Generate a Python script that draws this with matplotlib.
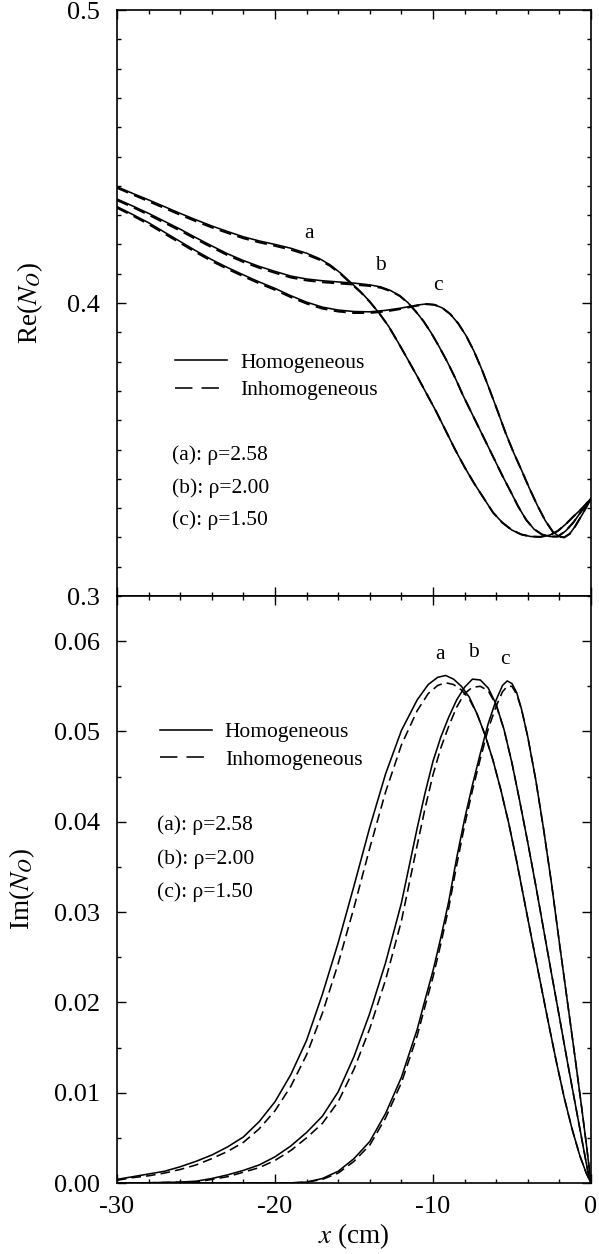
import matplotlib
matplotlib.use("Agg")
import matplotlib.pyplot as plt
from matplotlib.ticker import MultipleLocator, FormatStrFormatter
from matplotlib.lines import Line2D

# ---- Re(N_O): upper panel ----
re_a_x = [-30, -29, -28, -27, -26, -25, -24, -23, -22, -21, -20, -19, -18, -17.2, -16.5, -15.8,
          -15.2, -14.6, -14.0, -13.4, -12.8, -12.2, -11.6, -11.0, -10.4, -9.8, -9.2, -8.6, -8.0,
          -7.4, -6.8, -6.2, -5.6, -5.0, -4.4, -3.8, -3.2, -2.6, -2.1, -1.6, -1.1, -0.5, 0]
re_a_hom = [0.4397, 0.4374, 0.4352, 0.4329, 0.4306, 0.4284, 0.4263, 0.4244, 0.4226, 0.4212, 0.4200,
            0.4187, 0.4170, 0.4152, 0.4130, 0.4100, 0.4070, 0.4040, 0.4005, 0.3965, 0.3920, 0.3865,
            0.3808, 0.3750, 0.3690, 0.3630, 0.3565, 0.3500, 0.3440, 0.3385, 0.3335, 0.3285, 0.3250,
            0.3225, 0.3210, 0.3203, 0.3202, 0.3208, 0.3222, 0.3245, 0.3272, 0.3303, 0.3333]
re_a_inh = [0.4393, 0.4370, 0.4347, 0.4324, 0.4301, 0.4279, 0.4258, 0.4239, 0.4221, 0.4207, 0.4195,
            0.4182, 0.4165, 0.4148, 0.4126, 0.4097, 0.4067, 0.4038, 0.4004, 0.3965, 0.3920, 0.3865,
            0.3808, 0.3750, 0.3690, 0.3630, 0.3565, 0.3500, 0.3440, 0.3385, 0.3335, 0.3285, 0.3250,
            0.3225, 0.3210, 0.3203, 0.3202, 0.3208, 0.3222, 0.3245, 0.3272, 0.3303, 0.3333]

re_b_x = [-30, -29, -28, -27, -26, -25, -24, -23, -22, -21, -20, -19, -18, -17, -16, -15, -14,
          -13.3, -12.7, -12.1, -11.6, -11.1, -10.6, -10.1, -9.6, -9.1, -8.6, -8.1, -7.6, -7.1,
          -6.6, -6.1, -5.6, -5.1, -4.6, -4.1, -3.6, -3.1, -2.6, -2.1, -1.6, -1.1, -0.6, 0]
re_b_hom = [0.4355, 0.4331, 0.4306, 0.4279, 0.4252, 0.4223, 0.4195, 0.4168, 0.4145, 0.4125, 0.4108,
            0.4092, 0.4082, 0.4076, 0.4072, 0.4068, 0.4062, 0.4055, 0.4043, 0.4025, 0.4002, 0.3972,
            0.3938, 0.3897, 0.3850, 0.3800, 0.3745, 0.3685, 0.3630, 0.3575, 0.3520, 0.3465, 0.3410,
            0.3358, 0.3305, 0.3260, 0.3228, 0.3210, 0.3203, 0.3203, 0.3222, 0.3252, 0.3290, 0.3333]
re_b_inh = [0.4351, 0.4327, 0.4301, 0.4274, 0.4247, 0.4218, 0.4190, 0.4163, 0.4140, 0.4120, 0.4103,
            0.4087, 0.4077, 0.4071, 0.4067, 0.4063, 0.4058, 0.4052, 0.4041, 0.4024, 0.4001, 0.3972,
            0.3938, 0.3897, 0.3850, 0.3800, 0.3745, 0.3685, 0.3630, 0.3575, 0.3520, 0.3465, 0.3410,
            0.3358, 0.3305, 0.3260, 0.3228, 0.3210, 0.3203, 0.3203, 0.3222, 0.3252, 0.3290, 0.3333]

re_c_x = [-30, -29, -28, -27, -26, -25, -24, -23, -22, -21, -20, -19, -18, -17, -16, -15, -14,
          -13, -12, -11, -10.4, -9.9, -9.4, -8.9, -8.4, -7.9, -7.4, -6.9, -6.4, -5.9, -5.4, -4.9,
          -4.4, -3.9, -3.4, -2.9, -2.4, -2.0, -1.7, -1.35, -1.0, -0.5, 0]
re_c_hom = [0.4329, 0.4302, 0.4274, 0.4242, 0.4210, 0.4178, 0.4148, 0.4121, 0.4096, 0.4072, 0.4050,
            0.4025, 0.4003, 0.3986, 0.3976, 0.3971, 0.3970, 0.3975, 0.3983, 0.3993, 0.3997, 0.3994,
            0.3983, 0.3962, 0.3930, 0.3888, 0.3835, 0.3772, 0.3702, 0.3630, 0.3556, 0.3490, 0.3430,
            0.3368, 0.3310, 0.3258, 0.3218, 0.3203, 0.3200, 0.3212, 0.3238, 0.3283, 0.3333]
re_c_inh = [0.4325, 0.4298, 0.4269, 0.4237, 0.4205, 0.4173, 0.4143, 0.4116, 0.4091, 0.4067, 0.4045,
            0.4020, 0.3998, 0.3981, 0.3971, 0.3966, 0.3966, 0.3971, 0.3980, 0.3991, 0.3996, 0.3994,
            0.3983, 0.3962, 0.3930, 0.3888, 0.3835, 0.3772, 0.3702, 0.3630, 0.3556, 0.3490, 0.3430,
            0.3368, 0.3310, 0.3258, 0.3218, 0.3203, 0.3200, 0.3212, 0.3238, 0.3283, 0.3333]

# ---- Im(N_O): lower panel ----
im_a_x = [-30, -29, -28, -27, -26, -25, -24, -23, -22, -21, -20, -19, -18, -17, -16, -15, -14,
          -13, -12, -11, -10.3, -9.7, -9.2, -8.7, -8.2, -7.7, -7.2, -6.7, -6.2, -5.7, -5.2, -4.7,
          -4.2, -3.7, -3.2, -2.7, -2.2, -1.7, -1.2, -0.7, -0.3, 0]
im_a_hom = [0.0004, 0.0007, 0.0010, 0.0013, 0.0018, 0.0024, 0.0031, 0.0040, 0.0051, 0.0068, 0.0090,
            0.0120, 0.0158, 0.0209, 0.0266, 0.0329, 0.0394, 0.0453, 0.0501, 0.0535, 0.0552, 0.0560,
            0.0562, 0.0558, 0.0550, 0.0538, 0.0519, 0.0496, 0.0468, 0.0435, 0.0398, 0.0356, 0.0311,
            0.0266, 0.0222, 0.0178, 0.0135, 0.0095, 0.0060, 0.0030, 0.0011, 0.0]
im_a_inh = [0.0003, 0.0006, 0.0008, 0.0011, 0.0015, 0.0020, 0.0027, 0.0035, 0.0045, 0.0060, 0.0080,
            0.0107, 0.0142, 0.0188, 0.0243, 0.0305, 0.0371, 0.0433, 0.0485, 0.0523, 0.0542, 0.0551,
            0.0554, 0.0552, 0.0546, 0.0536, 0.0519, 0.0496, 0.0468, 0.0435, 0.0398, 0.0356, 0.0311,
            0.0266, 0.0222, 0.0178, 0.0135, 0.0095, 0.0060, 0.0030, 0.0011, 0.0]

im_b_x = [-30, -28, -26, -25, -24, -23, -22, -21, -20, -19, -18, -17, -16, -15, -14, -13, -12,
          -11, -10.5, -10, -9.5, -9, -8.5, -8, -7.5, -7, -6.5, -6, -5.5, -5, -4.5, -4, -3.5, -3,
          -2.5, -2, -1.5, -1, -0.5, -0.2, 0]
im_b_hom = [0.0, 0.00003, 0.0001, 0.0002, 0.0005, 0.0009, 0.0014, 0.0020, 0.0029, 0.0041, 0.0056,
            0.0074, 0.0101, 0.0140, 0.0188, 0.0244, 0.0310, 0.0393, 0.0432, 0.0467, 0.0494, 0.0516,
            0.0535, 0.0549, 0.0558, 0.0557, 0.0548, 0.0530, 0.0502, 0.0465, 0.0422, 0.0377, 0.0330,
            0.0281, 0.0232, 0.0184, 0.0135, 0.0088, 0.0041, 0.0013, 0.0]
im_b_inh = [0.0, 0.00002, 0.0001, 0.0001, 0.0004, 0.0007, 0.0012, 0.0017, 0.0025, 0.0036, 0.0050,
            0.0066, 0.0090, 0.0126, 0.0171, 0.0225, 0.0290, 0.0374, 0.0415, 0.0452, 0.0482, 0.0506,
            0.0527, 0.0542, 0.0549, 0.0550, 0.0545, 0.0529, 0.0502, 0.0465, 0.0422, 0.0377, 0.0330,
            0.0281, 0.0232, 0.0184, 0.0135, 0.0088, 0.0041, 0.0013, 0.0]

im_c_x = [-30, -20, -19, -18, -17, -16, -15, -14, -13, -12, -11, -10.5, -10, -9.5, -9, -8.5, -8,
          -7.5, -7, -6.5, -6, -5.6, -5.3, -5.0, -4.7, -4.4, -4.0, -3.5, -3.0, -2.5, -2.0, -1.5,
          -1.0, -0.6, -0.3, 0]
im_c_hom = [0.0, 0.0, 0.00002, 0.0001, 0.0005, 0.0013, 0.0027, 0.0046, 0.0077, 0.0117, 0.0170,
            0.0203, 0.0235, 0.0272, 0.0312, 0.0360, 0.0403, 0.0441, 0.0476, 0.0509, 0.0535, 0.0551,
            0.0556, 0.0553, 0.0543, 0.0525, 0.0494, 0.0447, 0.0392, 0.0332, 0.0266, 0.0202, 0.0138,
            0.0085, 0.0044, 0.0]
im_c_inh = [0.0, 0.0, 0.00001, 0.0001, 0.0004, 0.0011, 0.0024, 0.0042, 0.0072, 0.0111, 0.0163,
            0.0196, 0.0228, 0.0265, 0.0305, 0.0352, 0.0396, 0.0435, 0.0470, 0.0503, 0.0528, 0.0544,
            0.0550, 0.0550, 0.0541, 0.0525, 0.0494, 0.0447, 0.0392, 0.0332, 0.0266, 0.0202, 0.0138,
            0.0085, 0.0044, 0.0]

curve_names = ["a", "b", "c"]
rho_labels = ["(a): \u03c1=2.58", "(b): \u03c1=2.00", "(c): \u03c1=1.50"]
re_name_pos = [(-17.86, 0.4238), (-13.35, 0.4128), (-9.7, 0.4061)]
im_name_pos = [(-9.56, 0.0585), (-7.45, 0.0588), (-5.44, 0.0580)]

plt.rcParams["font.family"] = ["Liberation Serif", "DejaVu Serif"]
plt.rcParams["mathtext.fontset"] = "stix"
plt.rcParams["axes.unicode_minus"] = False

LW = 1.15
DASH = (0, (6, 3.2))


def style_axes(ax, ymajor, yminor, yfmt):
    ax.set_xlim(-30, 0)
    ax.xaxis.set_major_locator(MultipleLocator(10))
    ax.xaxis.set_minor_locator(MultipleLocator(2))
    ax.yaxis.set_major_locator(MultipleLocator(ymajor))
    ax.yaxis.set_minor_locator(MultipleLocator(yminor))
    ax.yaxis.set_major_formatter(FormatStrFormatter(yfmt))
    ax.tick_params(which="both", direction="in", top=True, right=True, width=1.0)
    ax.tick_params(which="major", length=6.5, labelsize=19)
    ax.tick_params(which="minor", length=3.2)
    ax.tick_params(axis="y", pad=12)
    ax.tick_params(axis="x", pad=9)
    for s in ax.spines.values():
        s.set_linewidth(1.2)


def add_key(ax, anchor, rho_x, rho_y):
    handles = [Line2D([], [], color="black", lw=LW),
               Line2D([], [], color="black", lw=LW, linestyle=(0, (10.9, 5.7)))]
    ax.legend(handles, ["Homogeneous", "Inhomogeneous"], loc="upper left",
              bbox_to_anchor=anchor, frameon=False, fontsize=15.5,
              handlelength=2.4, handletextpad=0.6, labelspacing=0.35, borderaxespad=0)
    for lab, y in zip(rho_labels, rho_y):
        ax.text(rho_x, y, lab, fontsize=15.5, ha="left", va="center")


fig = plt.figure(figsize=(5.99, 12.54), dpi=100)
ax1 = fig.add_axes([0.1953, 0.5247, 0.7913, 0.4673])
ax2 = fig.add_axes([0.1953, 0.0566, 0.7913, 0.4681])

# upper panel
for xs, yh, yi in [(re_a_x, re_a_hom, re_a_inh), (re_b_x, re_b_hom, re_b_inh),
                   (re_c_x, re_c_hom, re_c_inh)]:
    ax1.plot(xs, yh, color="black", lw=LW)
    ax1.plot(xs, yi, color="black", lw=LW + 0.3, linestyle=DASH)
for name, (x, y) in zip(curve_names, re_name_pos):
    ax1.text(x, y, name, fontsize=15.5, ha="center", va="center")
ax1.set_ylim(0.3, 0.5)
style_axes(ax1, 0.1, 0.01, "%.1f")
ax1.tick_params(labelbottom=False)
ax1.set_ylabel("Re($N_O$)", fontsize=19.5)
ax1.yaxis.set_label_coords(-0.152, 0.5)
add_key(ax1, (0.105, 0.43), -26.5, [0.3481, 0.3369, 0.3259])

# lower panel
for xs, yh, yi in [(im_a_x, im_a_hom, im_a_inh), (im_b_x, im_b_hom, im_b_inh),
                   (im_c_x, im_c_hom, im_c_inh)]:
    ax2.plot(xs, yh, color="black", lw=LW)
    ax2.plot(xs, yi, color="black", lw=LW, linestyle=DASH)
for name, (x, y) in zip(curve_names, im_name_pos):
    ax2.text(x, y, name, fontsize=15.5, ha="center", va="center")
ax2.set_ylim(0, 0.065)
style_axes(ax2, 0.01, 0.005, "%.2f")
ax2.set_ylabel("Im($N_O$)", fontsize=19.5)
ax2.yaxis.set_label_coords(-0.169, 0.5)
ax2.set_xlabel("$x$ (cm)", fontsize=19.5, labelpad=3)
add_key(ax2, (0.073, 0.80), -27.45, [0.0396, 0.0359, 0.0322])

fig.savefig("out.png", dpi=100)
